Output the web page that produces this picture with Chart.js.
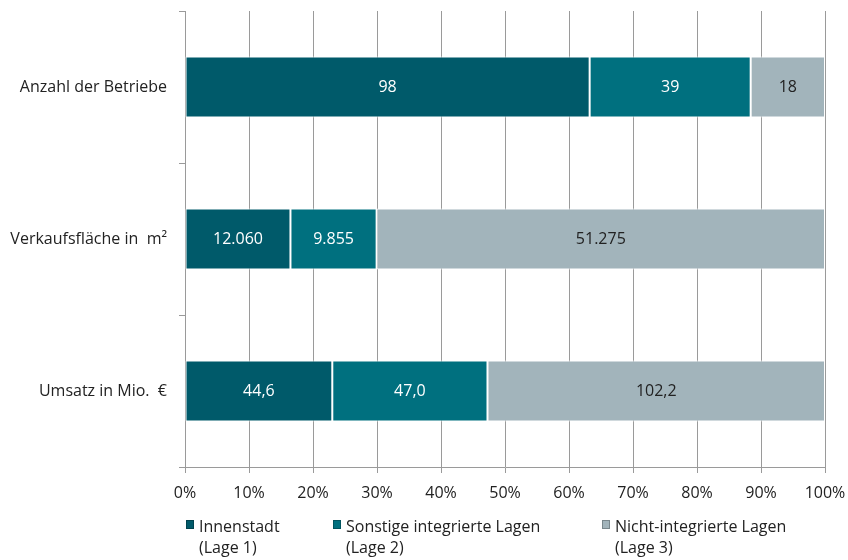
<!DOCTYPE html>
<html>
<head>
<meta charset="utf-8">
<script src="https://cdn.jsdelivr.net/npm/chart.js@4"></script>
<style>
  html, body { margin: 0; padding: 0; background: #fff; }
  #wrap { width: 848px; height: 560px; }
</style>
</head>
<body>
<div id="wrap"><canvas id="myChart" width="848" height="560"></canvas></div>
<script>
const categories = ['Anzahl der Betriebe', 'Verkaufsfläche in  m²', 'Umsatz in Mio.  €'];
const decimals = [0, 0, 1];

const innenstadt = [98, 12060, 44.6];
const sonstige = [39, 9855, 47.0];
const nichtIntegriert = [18, 51275, 102.2];

const seriesNames = ['Innenstadt', 'Sonstige integrierte Lagen', 'Nicht-integrierte Lagen'];
const seriesNotes = ['(Lage 1)', '(Lage 2)', '(Lage 3)'];
const seriesColors = ['#005a6a', '#00707f', '#a2b4bb'];
const labelColors = ['#ffffff', '#ffffff', '#222222'];

const xTicks = [0, 10, 20, 30, 40, 50, 60, 70, 80, 90, 100];

const FONT = '"Open Sans", "DejaVu Sans", sans-serif';

const rawSeries = [innenstadt, sonstige, nichtIntegriert];
const totals = categories.map((c, i) => rawSeries.reduce((s, arr) => s + arr[i], 0));
const toShare = arr => arr.map((v, i) => v / totals[i] * 100);

function formatDe(v, d) {
  const parts = v.toFixed(d).split('.');
  parts[0] = parts[0].replace(/\B(?=(\d{3})+(?!\d))/g, '.');
  return parts.join(',');
}

const data = {
  labels: categories,
  datasets: rawSeries.map((arr, k) => ({
    label: seriesNames[k],
    data: toShare(arr),
    raw: arr,
    backgroundColor: seriesColors[k],
    borderColor: '#ffffff',
    borderWidth: 1,
    borderSkipped: false,
    barPercentage: 0.4,
    categoryPercentage: 1.0,
  })),
};

// value labels in the middle of each segment
const segmentLabels = {
  id: 'segmentLabels',
  afterDatasetsDraw(chart) {
    const ctx = chart.ctx;
    ctx.save();
    ctx.font = '16px ' + FONT;
    ctx.textAlign = 'center';
    ctx.textBaseline = 'middle';
    chart.data.datasets.forEach((ds, k) => {
      chart.getDatasetMeta(k).data.forEach((bar, i) => {
        const cx = (bar.x + bar.base) / 2;
        ctx.fillStyle = labelColors[k];
        ctx.fillText(formatDe(ds.raw[i], decimals[i]), cx, bar.y);
      });
    });
    ctx.restore();
  },
};

// two-line legend below the x axis
const bottomLegend = {
  id: 'bottomLegend',
  afterDraw(chart) {
    const ctx = chart.ctx;
    const left = chart.chartArea.left;
    const offsets = [0, 147, 416];
    const top = chart.chartArea.bottom + 53;
    ctx.save();
    ctx.font = '16px ' + FONT;
    ctx.textBaseline = 'middle';
    ctx.textAlign = 'left';
    seriesNames.forEach((name, k) => {
      const x = left + offsets[k];
      ctx.fillStyle = seriesColors[k];
      ctx.fillRect(x + 1, top, 8, 9);
      ctx.strokeStyle = 'rgba(0,0,0,0.25)';
      ctx.lineWidth = 1;
      ctx.strokeRect(x + 1.5, top + 0.5, 7, 8);
      ctx.fillStyle = '#222';
      ctx.fillText(name, x + 14, top + 7);
      ctx.fillText(seriesNotes[k], x + 14, top + 28);
    });
    ctx.restore();
  },
};

const config = {
  type: 'bar',
  data,
  options: {
    indexAxis: 'y',
    responsive: false,
    animation: false,
    layout: {
      padding: { left: 0, right: 23, top: 11, bottom: 0 },
    },
    plugins: {
      legend: { display: false },
      tooltip: { enabled: false },
    },
    scales: {
      x: {
        stacked: true,
        min: 0,
        max: 100,
        afterBuildTicks: scale => { scale.ticks = xTicks.map(v => ({ value: v })); },
        afterFit: scale => {
          scale.height = 93;
          scale.paddingLeft = 0;
          scale.paddingRight = 0;
        },
        grid: {
          color: '#9a9a9a',
          lineWidth: 1,
          drawTicks: true,
          tickLength: 6,
        },
        border: { color: '#9a9a9a', width: 1 },
        ticks: {
          color: '#222',
          padding: 11,
          font: { family: FONT, size: 16 },
          callback: v => v + '%',
        },
      },
      y: {
        stacked: true,
        afterFit: scale => {
          scale.width = 185;
          scale.paddingTop = 0;
          scale.paddingBottom = 0;
        },
        grid: {
          offset: true,
          drawOnChartArea: false,
          drawTicks: true,
          tickLength: 6,
          color: '#9a9a9a',
        },
        border: { color: '#9a9a9a', width: 1 },
        ticks: {
          color: '#222',
          padding: 12,
          font: { family: FONT, size: 16 },
        },
      },
    },
  },
  plugins: [segmentLabels, bottomLegend],
};

const ctx = document.getElementById('myChart');

const chart = new Chart(ctx, config);
</script>
</body>
</html>
